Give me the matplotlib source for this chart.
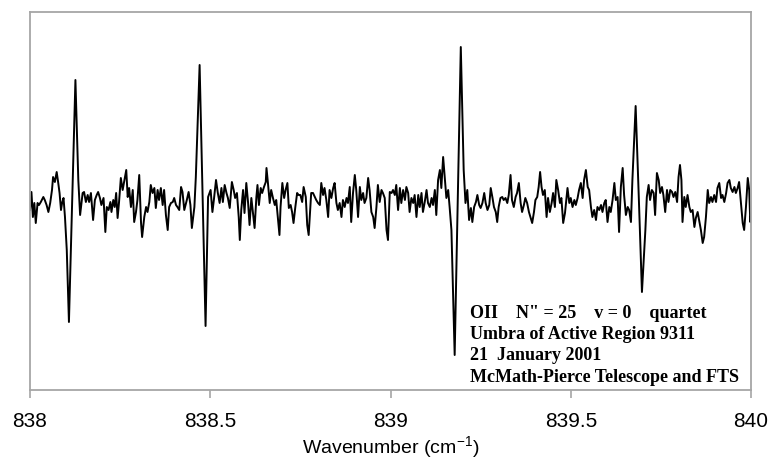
import matplotlib
matplotlib.use("Agg")
import matplotlib.pyplot as plt

# ------------------------
# Data
# ------------------------
wavenumber = [
    838.000, 838.004, 838.008, 838.012, 838.016, 838.021, 838.025, 838.030, 838.037, 838.041,
    838.046, 838.051, 838.056, 838.061, 838.064, 838.069, 838.074, 838.078, 838.082, 838.086,
    838.089, 838.093, 838.097, 838.102, 838.108, 838.117, 838.126, 838.134, 838.139, 838.146,
    838.150, 838.155, 838.160, 838.164, 838.169, 838.175, 838.180, 838.185, 838.189, 838.194,
    838.198, 838.204, 838.209, 838.213, 838.218, 838.223, 838.226, 838.231, 838.235, 838.239,
    838.243, 838.247, 838.252, 838.257, 838.261, 838.267, 838.271, 838.275, 838.280, 838.285,
    838.289, 838.294, 838.298, 838.303, 838.308, 838.311, 838.317, 838.322, 838.326, 838.331,
    838.335, 838.340, 838.345, 838.349, 838.354, 838.358, 838.363, 838.368, 838.372, 838.377,
    838.382, 838.386, 838.391, 838.396, 838.400, 838.405, 838.409, 838.414, 838.419, 838.423,
    838.428, 838.435, 838.440, 838.445, 838.449, 838.456, 838.460, 838.4705, 838.479, 838.487,
    838.494, 838.501, 838.506, 838.510, 838.516, 838.521, 838.526, 838.531, 838.535, 838.540,
    838.545, 838.549, 838.554, 838.560, 838.565, 838.569, 838.574, 838.579, 838.582, 838.586,
    838.591, 838.595, 838.600, 838.605, 838.609, 838.614, 838.619, 838.623, 838.628, 838.631,
    838.635, 838.640, 838.644, 838.649, 838.654, 838.656, 838.660, 838.665, 838.669, 838.674,
    838.679, 838.683, 838.688, 838.692, 838.695, 838.700, 838.705, 838.709, 838.714, 838.718,
    838.723, 838.727, 838.731, 838.736, 838.741, 838.745, 838.750, 838.755, 838.759, 838.765,
    838.769, 838.773, 838.777, 838.780, 838.785, 838.790, 838.794, 838.799, 838.804, 838.808,
    838.813, 838.817, 838.822, 838.827, 838.831, 838.836, 838.841, 838.845, 838.850, 838.854,
    838.859, 838.864, 838.868, 838.873, 838.878, 838.882, 838.887, 838.891, 838.896, 838.901,
    838.905, 838.910, 838.915, 838.919, 838.924, 838.928, 838.933, 838.938, 838.942, 838.947,
    838.952, 838.956, 838.961, 838.965, 838.970, 838.975, 838.979, 838.984, 838.989, 838.993,
    838.998, 839.003, 839.007, 839.012, 839.016, 839.021, 839.026, 839.030, 839.035, 839.040,
    839.044, 839.049, 839.053, 839.058, 839.063, 839.067, 839.072, 839.077, 839.081, 839.086,
    839.090, 839.095, 839.100, 839.104, 839.109, 839.114, 839.118, 839.123, 839.127, 839.132,
    839.137, 839.141, 839.146, 839.151, 839.155, 839.160, 839.164, 839.169, 839.178, 839.1866,
    839.195, 839.203, 839.208, 839.213, 839.218, 839.223, 839.227, 839.232, 839.237, 839.241,
    839.246, 839.250, 839.255, 839.260, 839.264, 839.269, 839.274, 839.278, 839.283, 839.287,
    839.292, 839.296, 839.300, 839.305, 839.310, 839.314, 839.319, 839.324, 839.328, 839.333,
    839.337, 839.342, 839.347, 839.351, 839.356, 839.361, 839.365, 839.370, 839.374, 839.379,
    839.384, 839.388, 839.393, 839.398, 839.402, 839.407, 839.411, 839.415, 839.419, 839.423,
    839.428, 839.433, 839.437, 839.442, 839.447, 839.451, 839.456, 839.460, 839.465, 839.470,
    839.474, 839.479, 839.484, 839.491, 839.496, 839.500, 839.505, 839.510, 839.514, 839.519,
    839.523, 839.528, 839.533, 839.537, 839.542, 839.547, 839.551, 839.556, 839.560, 839.565,
    839.570, 839.574, 839.579, 839.584, 839.588, 839.593, 839.597, 839.602, 839.607, 839.611,
    839.616, 839.621, 839.625, 839.630, 839.634, 839.639, 839.644, 839.648, 839.653, 839.658,
    839.662, 839.667, 839.671, 839.680, 839.689, 839.6975, 839.707, 839.711, 839.716, 839.720,
    839.725, 839.730, 839.734, 839.739, 839.744, 839.748, 839.753, 839.757, 839.762, 839.767,
    839.771, 839.776, 839.781, 839.785, 839.790, 839.795, 839.799, 839.803, 839.807, 839.810,
    839.815, 839.819, 839.824, 839.829, 839.833, 839.838, 839.843, 839.847, 839.852, 839.856,
    839.861, 839.866, 839.870, 839.875, 839.880, 839.884, 839.889, 839.893, 839.898, 839.903,
    839.907, 839.912, 839.917, 839.921, 839.926, 839.931, 839.935, 839.940, 839.944, 839.949,
    839.954, 839.958, 839.963, 839.967, 839.972, 839.977, 839.981, 839.986, 839.991, 839.995,
    839.998, 840.000,
]

intensity = [
    -10, 8, -17, -3, -23, -3, -5, -2, 3, 0,
    -5, -12, -3, 10, 23, 18, 28, 18, 7, -10,
    -3, 2, -17, -50, -122, 0, 120, 20, -15, 7,
    8, -2, 5, -2, 7, -20, 0, 5, 8, 2,
    -5, 2, -32, -7, -10, -2, -12, 0, -7, 7,
    -18, -2, 22, 10, 18, 30, 3, 12, -7, 10,
    -22, -12, 0, 25, -23, -37, -17, -7, -12, -2,
    15, 7, 12, -8, 10, 0, 12, -5, 10, -15,
    -30, -7, -3, -2, 2, -5, -7, -10, 13, 8,
    -10, 0, 8, -5, -28, -7, 23, 135, 0, -126,
    3, 10, -12, 0, 20, 7, -3, 12, -2, 15,
    7, 2, -8, 18, 10, 2, 7, -17, -40, -10,
    10, -13, 17, -3, -25, 2, -15, -28, 3, 15,
    -5, 12, 7, 13, 18, 32, 17, -3, 10, 2,
    -5, 0, -20, -35, -7, 17, 2, 10, 17, -8,
    -5, -12, -23, -7, 7, 5, 5, -2, 13, 3,
    -25, -35, -12, 7, 7, 3, 0, -3, -5, 17,
    5, 12, 0, -17, 10, 2, 12, 17, -3, -10,
    -3, -17, 0, -7, 2, -3, 13, -22, 7, 25,
    10, -17, 13, 0, 7, -3, 2, 22, 10, -12,
    -17, -28, -7, 15, -2, 10, 7, 2, -30, -40,
    8, 7, 10, 5, 15, -10, 12, -3, 10, 0,
    13, 7, -12, 2, -3, 5, -17, 5, -7, 7,
    -12, -2, 10, -3, -7, 2, -5, 10, -15, 20,
    30, 12, 43, 20, 2, 10, -7, -30, -155, 0,
    153, 30, -3, 10, -20, -8, -22, -7, -2, 5,
    -5, -8, -3, 7, -3, -10, -5, 12, 2, -7,
    -12, -22, -7, 2, 3, 0, 2, -3, 5, 25,
    0, -7, 3, 7, 17, -3, -12, -5, 2, -3,
    -12, -17, -23, -12, 0, 3, 13, 28, 13, 5,
    10, -17, 2, -12, -3, 7, -7, 20, 10, -3,
    2, -23, -13, 12, -3, 2, -7, 0, -5, 2,
    10, 17, 2, 20, 30, 13, 10, -7, -17, -10,
    -20, -7, -10, -5, -12, -3, 0, -22, -7, -12,
    0, 17, 0, 3, -32, 13, 32, 5, -15, -7,
    -10, -22, 20, 94, 0, -92, -30, 3, 15, 0,
    10, 7, -15, 27, 20, 7, 13, 5, -12, 10,
    -2, 10, 8, 3, 8, -2, 23, 35, 20, -22,
    3, -7, 5, -7, -12, -10, -27, -18, -12, -20,
    -30, -43, -37, -17, 10, -3, 3, -2, 5, -2,
    12, 17, 2, 5, -2, 7, 17, 20, 12, 8,
    13, 7, 12, 18, -3, -23, -30, -7, 22, 10,
    -22, -15,
]

tick_values = [838, 838.5, 839, 839.5, 840]
tick_labels = ["838", "838.5", "839", "839.5", "840"]

note_lines = [
    'OII    N" = 25    v = 0    quartet',
    "Umbra of Active Region 9311",
    "21  January 2001",
    "McMath-Pierce Telescope and FTS",
]

# ------------------------
# Plot
# ------------------------
W, H = 771, 468
fig = plt.figure(figsize=(W / 100, H / 100), dpi=100)
ax = fig.add_axes([30 / W, 1 - 390 / H, 721 / W, 378 / H])

ax.plot(wavenumber, intensity, color="black", lw=1.4)
ax.set_xlim(838, 840)
ax.set_ylim(-190, 188)

frame_grey = "#a6a6a6"
for s in ax.spines.values():
    s.set_color(frame_grey)
    s.set_linewidth(1.3)

ax.set_yticks([])
ax.set_xticks(tick_values)
ax.set_xticklabels(tick_labels, fontfamily="Liberation Sans", fontsize=15)
ax.tick_params(axis="x", direction="out", length=6, width=1.2,
               color=frame_grey, pad=10)

ax.set_xlabel(r"Wavenumber (cm$^{\mathregular{-1}}$)",
              fontfamily="Liberation Sans", fontsize=14, labelpad=2)

# annotation block
for i, line in enumerate(note_lines):
    fig.text(470 / W, 1 - (313 + 21.5 * i) / H, line,
             fontfamily="Liberation Serif", fontweight="bold",
             fontsize=13, va="center", ha="left")

fig.savefig("out.png", dpi=100)
